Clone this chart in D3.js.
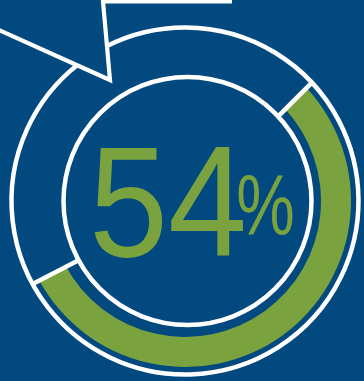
<!DOCTYPE html>
<html>
<head>
<meta charset="utf-8">
<script src="https://cdn.jsdelivr.net/npm/d3@7"></script>
<style>
  html, body { margin: 0; padding: 0; background: #02497f; }
  svg { display: block; }
</style>
</head>
<body>
<script>
// Share shown on the ring
const segments = ["share", "remainder"];
const values = [54, 46];
const valueLabel = "54";
const unitLabel = "%";

const W = 364, H = 381;
const BG = "#02497f", GREEN = "#7aa23e", WHITE = "#ffffff";

const cx = 185, cy = 201;
const outerR = 173.5, innerR = 124, innerDx = 2.5;
const bandInner = 136, bandOuter = 166;
const startDeg = 47;

const svg = d3.select("body").append("svg")
  .attr("width", W).attr("height", H);

svg.append("rect").attr("width", W).attr("height", H).attr("fill", BG);

const g = svg.append("g").attr("transform", `translate(${cx},${cy})`);

const start = startDeg * Math.PI / 180;
const pie = d3.pie().sort(null).value(d => d)
  .startAngle(start).endAngle(start + 2 * Math.PI);
const arcs = pie(values);

// filled share band
const arc = d3.arc().innerRadius(bandInner).outerRadius(bandOuter);
g.selectAll("path.band")
  .data(arcs.filter((d, i) => i === 0))
  .join("path")
  .attr("class", "band")
  .attr("d", arc)
  .attr("fill", GREEN);

// inner ring outline
g.append("circle")
  .attr("cx", innerDx).attr("cy", 0).attr("r", innerR)
  .attr("fill", "none").attr("stroke", WHITE).attr("stroke-width", 4.5);

// arrow outline (tip sits on the outer ring)
const tip = [110 - cx, 80 - cy];
const topEnd = [103 - cx, 1.5 - cy];
const leftEnd = [-10 - cx, 26 - cy];
const topRight = [232 - cx, 1.5 - cy];

// where a segment from p to q crosses the outer ring
function crossAngle(p, q) {
  const dx = q[0] - p[0], dy = q[1] - p[1];
  const a = dx * dx + dy * dy;
  const b = 2 * (p[0] * dx + p[1] * dy);
  const c = p[0] * p[0] + p[1] * p[1] - outerR * outerR;
  const disc = Math.sqrt(b * b - 4 * a * c);
  const ts = [(-b - disc) / (2 * a), (-b + disc) / (2 * a)].filter(t => t >= 0 && t <= 1);
  const t = ts[0];
  const x = p[0] + t * dx, y = p[1] + t * dy;
  return Math.atan2(x, -y);
}
const aRight = crossAngle(tip, topEnd);   // ring resumes here, going clockwise
const aLeft = crossAngle(tip, leftEnd);   // ring stops here
const ringArc = d3.arc().innerRadius(outerR).outerRadius(outerR)
  .startAngle(aRight).endAngle(aLeft + 2 * Math.PI);
g.append("path")
  .attr("d", ringArc())
  .attr("fill", "none").attr("stroke", WHITE).attr("stroke-width", 4.5);

g.append("path")
  .attr("d", d3.line()([topRight, topEnd, tip, leftEnd]))
  .attr("fill", "none").attr("stroke", WHITE)
  .attr("stroke-width", 4.2).attr("stroke-linejoin", "miter").attr("stroke-miterlimit", 10);

// separators at the band's ends
const bounds = [arcs[0].startAngle, arcs[0].endAngle];
g.selectAll("line.sep")
  .data(bounds)
  .join("line")
  .attr("class", "sep")
  .attr("x1", a => innerDx + innerR * Math.sin(a))
  .attr("y1", a => -innerR * Math.cos(a))
  .attr("x2", a => outerR * Math.sin(a))
  .attr("y2", a => -outerR * Math.cos(a))
  .attr("stroke", WHITE).attr("stroke-width", 4.5);

// centre figure: condensed number with a raised, narrower percent sign
const font = "'Liberation Sans', Arial, sans-serif";
const label = svg.append("g")
  .attr("transform", "translate(89,256) scale(0.9,1)")
  .append("text")
  .attr("font-family", font)
  .attr("fill", GREEN);
label.append("tspan")
  .attr("font-size", 158)
  .text(valueLabel);
label.append("tspan")
  .attr("x", 163.5)
  .attr("dy", -21)
  .attr("font-size", 85)
  .attr("textLength", 65)
  .attr("lengthAdjust", "spacingAndGlyphs")
  .text(unitLabel);
</script>
</body>
</html>
